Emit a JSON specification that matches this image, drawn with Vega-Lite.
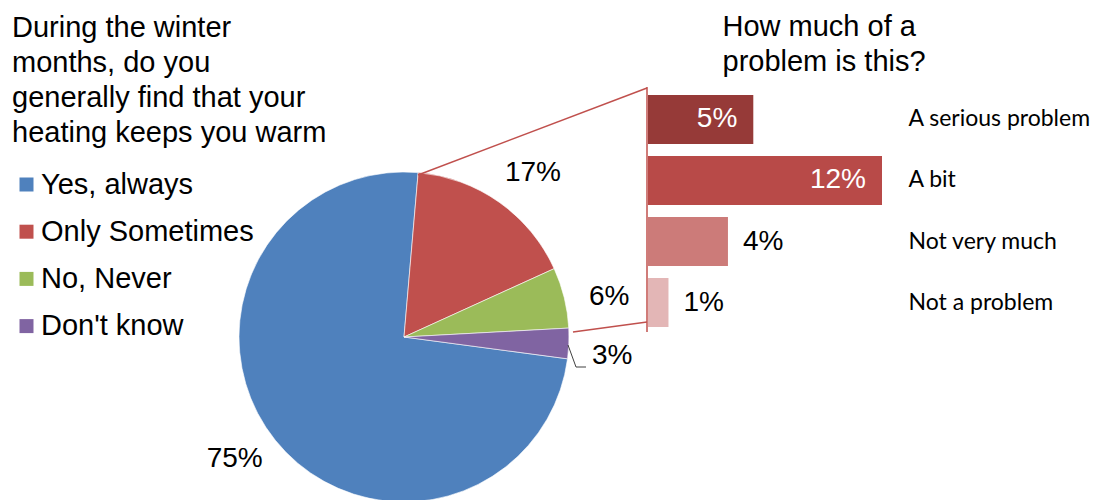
{
  "$schema": "https://vega.github.io/schema/vega-lite/v6.json",
  "width": 1098,
  "height": 500,
  "autosize": "none",
  "padding": 0,
  "background": "white",
  "config": {"view": {"stroke": null}, "font": "Liberation Sans", "text": {"font": "Liberation Sans"}},
  "datasets": {
    "pie": [
      {"answer": "Yes, always", "share": 0.75},
      {"answer": "Only Sometimes", "share": 0.17},
      {"answer": "No, Never", "share": 0.06},
      {"answer": "Don't know", "share": 0.03}
    ],
    "bars": [
      {"level": "A serious problem", "share": 0.054},
      {"level": "A bit", "share": 0.12},
      {"level": "Not very much", "share": 0.041},
      {"level": "Not a problem", "share": 0.0105}
    ]
  },
  "resolve": {"scale": {"theta": "independent"}},
  "layer": [
    {
      "data": {"name": "pie"},
      "mark": {"type": "arc", "outerRadius": 165, "x": 404, "y": 337, "stroke": "white", "strokeWidth": 0.6},
      "encoding": {
        "theta": {"field": "share", "type": "quantitative", "stack": true, "scale": {"range": [1.7034, 7.9866]}},
        "order": {"field": "share", "sort": "descending"},
        "color": {
          "field": "answer", "type": "nominal",
          "scale": {"domain": ["Yes, always", "Only Sometimes", "No, Never", "Don't know"], "range": ["#4F81BD", "#C0504D", "#9BBB59", "#8064A2"]},
          "legend": {
            "orient": "none", "legendX": 12, "legendY": 14, "padding": 0,
            "title": ["During the winter", "months, do you", "generally find that your", "heating keeps you warm"],
            "titleFont": "Liberation Sans", "titleFontSize": 29, "titleFontWeight": "normal", "titleColor": "#000000",
            "titleLineHeight": 35, "titleLimit": 500, "titlePadding": 22,
            "labelFont": "Liberation Sans", "labelFontSize": 29, "labelColor": "#000000", "labelLimit": 500,
            "labelOffset": 0, "symbolType": "square", "symbolSize": 196, "symbolStrokeWidth": 0, "symbolOffset": 0,
            "rowPadding": 17.2
          }
        }
      }
    },
    {
      "data": {"name": "pie"},
      "mark": {"type": "text", "radius": 209, "x": 404, "y": 337, "fontSize": 28, "color": "#000000", "font": "Liberation Sans"},
      "encoding": {
        "theta": {"field": "share", "type": "quantitative", "stack": true, "scale": {"range": [1.7534, 8.0366]}},
        "order": {"field": "share", "sort": "descending"},
        "text": {"field": "share", "type": "quantitative", "format": ".0%"}
      }
    },
    {
      "data": {"name": "bars"},
      "mark": {"type": "bar"},
      "encoding": {
        "y": {
          "field": "level", "type": "nominal", "sort": null,
          "scale": {"range": [95, 327], "paddingInner": 0.197, "paddingOuter": 0},
          "axis": {
            "orient": "right", "offset": -190, "domain": false, "ticks": false, "tickSize": 0, "labelPadding": 0,
            "labelFont": "Lato", "labelFontSize": 23, "labelColor": "#000000", "labelLimit": 400,
            "title": ["How much of a", "problem is this?"], "titleAngle": 0, "titleX": -186, "titleY": 35,
            "titleAlign": "left", "titleBaseline": "alphabetic", "titleFont": "Liberation Sans", "titleFontSize": 29,
            "titleFontWeight": "normal", "titleColor": "#000000", "titleLineHeight": 35
          }
        },
        "x": {"field": "share", "type": "quantitative", "scale": {"domain": [-0.33231, 0.23077], "zero": false, "nice": false}, "axis": null},
        "fill": {
          "field": "level", "type": "nominal",
          "scale": {"domain": ["A serious problem", "A bit", "Not very much", "Not a problem"], "range": ["#963A38", "#B84A48", "#CC7B79", "#E3B6B6"]},
          "legend": null
        }
      }
    },
    {
      "data": {"name": "bars"},
      "transform": [{"filter": "datum.share >= 0.05"}],
      "mark": {"type": "text", "align": "right", "dx": -16, "fontSize": 28, "color": "white", "font": "Liberation Sans"},
      "encoding": {
        "y": {"field": "level", "type": "nominal", "sort": null},
        "x": {"field": "share", "type": "quantitative"},
        "text": {"field": "share", "type": "quantitative", "format": ".0%"}
      }
    },
    {
      "data": {"name": "bars"},
      "transform": [{"filter": "datum.share < 0.05"}],
      "mark": {"type": "text", "align": "left", "dx": 15, "fontSize": 28, "color": "#000000", "font": "Liberation Sans"},
      "encoding": {
        "y": {"field": "level", "type": "nominal", "sort": null},
        "x": {"field": "share", "type": "quantitative"},
        "text": {"field": "share", "type": "quantitative", "format": ".0%"}
      }
    },
    {
      "data": {"values": [{}]},
      "mark": {"type": "rule", "color": "#C0504D", "strokeWidth": 1.5},
      "encoding": {"x": {"value": 418}, "y": {"value": 175}, "x2": {"value": 647}, "y2": {"value": 88}}
    },
    {
      "data": {"values": [{}]},
      "mark": {"type": "rule", "color": "#C0504D", "strokeWidth": 1.5},
      "encoding": {"x": {"value": 573}, "y": {"value": 332}, "x2": {"value": 647}, "y2": {"value": 322}}
    },
    {
      "data": {"values": [{}]},
      "mark": {"type": "rule", "color": "#C0504D", "strokeWidth": 1.5},
      "encoding": {"x": {"value": 647}, "y": {"value": 87}, "x2": {"value": 647}, "y2": {"value": 332}}
    },
    {
      "data": {"values": [{}]},
      "mark": {"type": "rule", "color": "#404040", "strokeWidth": 1},
      "encoding": {"x": {"value": 568}, "y": {"value": 345}, "x2": {"value": 576}, "y2": {"value": 367}}
    },
    {
      "data": {"values": [{}]},
      "mark": {"type": "rule", "color": "#404040", "strokeWidth": 1},
      "encoding": {"x": {"value": 576}, "y": {"value": 367}, "x2": {"value": 586}, "y2": {"value": 367}}
    }
  ]
}
